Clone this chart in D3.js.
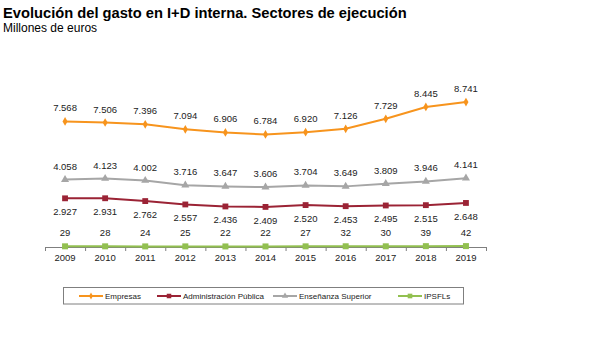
<!DOCTYPE html>
<html>
<head>
<meta charset="utf-8">
<script src="https://cdn.jsdelivr.net/npm/d3@7"></script>
<style>
  body { margin: 0; background: #fff; }
  svg { display: block; font-family: "Liberation Sans", Arial, sans-serif; }
</style>
</head>
<body>
<div id="chart"></div>
<script>
// years and one array per sector (millones de euros)
const years = ["2009", "2010", "2011", "2012", "2013", "2014", "2015", "2016", "2017", "2018", "2019"];
const empresas = [7568, 7506, 7396, 7094, 6906, 6784, 6920, 7126, 7729, 8445, 8741];
const administracion = [2927, 2931, 2762, 2557, 2436, 2409, 2520, 2453, 2495, 2515, 2648];
const ensenanza = [4058, 4123, 4002, 3716, 3647, 3606, 3704, 3649, 3809, 3946, 4141];
const ipsfl = [29, 28, 24, 25, 22, 22, 27, 32, 30, 39, 42];

const win_width = 615, win_height = 337;

let svg = d3.select("#chart")
    .append("svg")
    .attr("width", win_width)
    .attr("height", win_height);

// title
svg.append("text")
    .attr("x", 3).attr("y", 18)
    .style("font-size", "14.7px")
    .style("font-weight", "bold")
    .style("fill", "#000")
    .text("Evolución del gasto en I+D interna. Sectores de ejecución");
svg.append("text")
    .attr("x", 3).attr("y", 32)
    .style("font-size", "12px")
    .style("fill", "#000")
    .text("Millones de euros");

// scales
let x = d3.scaleBand().domain(years).range([45, 486]).padding(0);
let xEdge = d3.scaleLinear().domain([0, years.length]).range([45, 486]);
let y = d3.scaleLinear().domain([0, 10000]).range([246.8, 81.2]);

const fmt = d3.formatLocale({decimal: ",", thousands: ".", grouping: [3]}).format(",d");

// x axis: domain line plus ticks between categories
let axisY = 247;
svg.append("g")
    .attr("transform", "translate(0," + axisY + ")")
    .call(d3.axisBottom(xEdge).tickValues(d3.range(years.length + 1)).tickFormat("").tickSize(4).tickSizeOuter(4))
    .call(g => g.selectAll("path, line").attr("stroke", "#7f7f7f"));

svg.append("g").selectAll("text")
    .data(years)
    .enter().append("text")
    .attr("x", d => x(d) + x.bandwidth() / 2)
    .attr("y", 260.5)
    .attr("text-anchor", "middle")
    .style("font-size", "9.5px")
    .style("fill", "#222")
    .text(d => d);

let series = [
    {name: "Empresas", values: empresas, color: "#f7941d", symbol: d3.symbolDiamond, size: 22, labelDy: -10},
    {name: "Administración Pública", values: administracion, color: "#9b2335", symbol: d3.symbolSquare, size: 34, labelDy: 17},
    {name: "Enseñanza Superior", values: ensenanza, color: "#a6a6a6", symbol: d3.symbolTriangle, size: 28, labelDy: -10},
    {name: "IPSFLs", values: ipsfl, color: "#92c050", symbol: d3.symbolSquare, size: 36, labelDy: -10}
];

let line = d3.line()
    .x((d, i) => x(years[i]) + x.bandwidth() / 2)
    .y(d => y(d));

series.forEach(function(s) {
    let g = svg.append("g");
    g.append("path")
        .datum(s.values)
        .attr("d", line)
        .attr("fill", "none")
        .attr("stroke", s.color)
        .attr("stroke-width", 2);

    g.selectAll("path.pt")
        .data(s.values)
        .enter().append("path")
        .attr("class", "pt")
        .attr("transform", (d, i) => "translate(" + (x(years[i]) + x.bandwidth() / 2) + "," + y(d) + ")")
        .attr("d", d3.symbol().type(s.symbol).size(s.size))
        .attr("fill", s.color);

    g.selectAll("text")
        .data(s.values)
        .enter().append("text")
        .attr("x", (d, i) => x(years[i]) + x.bandwidth() / 2)
        .attr("y", d => y(d) + s.labelDy)
        .attr("text-anchor", "middle")
        .style("font-size", "9.5px")
        .style("fill", "#222")
        .text(d => fmt(d));
});

// legend
let legend = svg.append("g");
legend.append("rect")
    .attr("x", 63.5).attr("y", 287.5)
    .attr("width", 400).attr("height", 16.5)
    .attr("fill", "#fff")
    .attr("stroke", "#7f7f7f")
    .attr("stroke-width", 1);

let legendX = [79, 157, 273, 398];
series.forEach(function(s, i) {
    let lx = legendX[i], ly = 296;
    legend.append("line")
        .attr("x1", lx).attr("x2", lx + 24)
        .attr("y1", ly).attr("y2", ly)
        .attr("stroke", s.color)
        .attr("stroke-width", 2);
    legend.append("path")
        .attr("transform", "translate(" + (lx + 12) + "," + ly + ")")
        .attr("d", d3.symbol().type(s.symbol).size(s.size * 0.6))
        .attr("fill", s.color);
    legend.append("text")
        .attr("x", lx + 26)
        .attr("y", ly + 3)
        .style("font-size", "8px")
        .style("fill", "#222")
        .text(s.name);
});
</script>
</body>
</html>
